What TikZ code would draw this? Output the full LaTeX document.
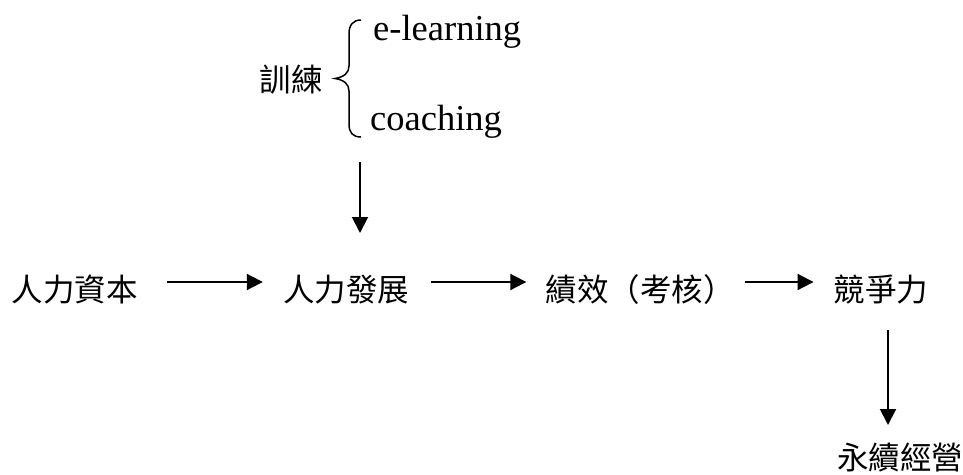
\documentclass[tikz,border=0pt]{standalone}
\usepackage{fontspec}
\setmainfont{Liberation Serif}
\newfontfamily\cjk{Noto Sans CJK TC}
\usetikzlibrary{arrows.meta,calc}
\tikzset{
  cjkt/.style={font=\cjk\fontsize{31.5}{31.5}\selectfont, inner sep=0pt, anchor=center},
  latt/.style={font=\fontsize{36.5}{36.5}\selectfont, inner sep=0pt, anchor=base west},
  arr/.style={line width=2pt, -{Triangle[length=16pt,width=16pt]}},
}
\begin{document}
\begin{tikzpicture}[x=1pt,y=-1pt]
\useasboundingbox (0,0) rectangle (963,474);
% main row
\node[cjkt] (a) at (75,290) {人力資本};
\node[cjkt] (b) at (346,290) {人力發展};
\node[cjkt] (c) at (640,290) {績效（考核）};
\node[cjkt] (d) at (881,290) {競爭力};
\node[cjkt] (e) at (900,458) {永續經營};
% training
\node[cjkt] (t) at (291,80) {訓練};
\node[latt] (el) at (373,40) {e-learning};
\node[latt] (co) at (370,130) {coaching};
\draw[line width=1.5pt] (361,20) .. controls (353,20) and (349,25) .. (349,34)
  -- (349,66) .. controls (349,73) and (344,77) .. (335,78.5)
  .. controls (344,80) and (349,84) .. (349,91)
  -- (349,124) .. controls (349,133) and (353,137) .. (361,137);
% arrows
\draw[arr] ($(a.east)+(29,-8)$) -- ($(b.west)+(-20,-8)$);
\draw[arr] ($(b.east)+(22,-8)$) -- ($(c.west)+(-19,-8)$);
\draw[arr] ($(c.east)+(10,-8)$) -- ($(d.west)+(-20,-8)$);
\coordinate (t1) at (360,162);
\coordinate (t2) at (360,233);
\draw[arr] (t1) -- (t2);
\coordinate (d1) at (888,330);
\coordinate (d2) at (888,425);
\draw[arr] (d1) -- (d2);
\end{tikzpicture}
\end{document}
